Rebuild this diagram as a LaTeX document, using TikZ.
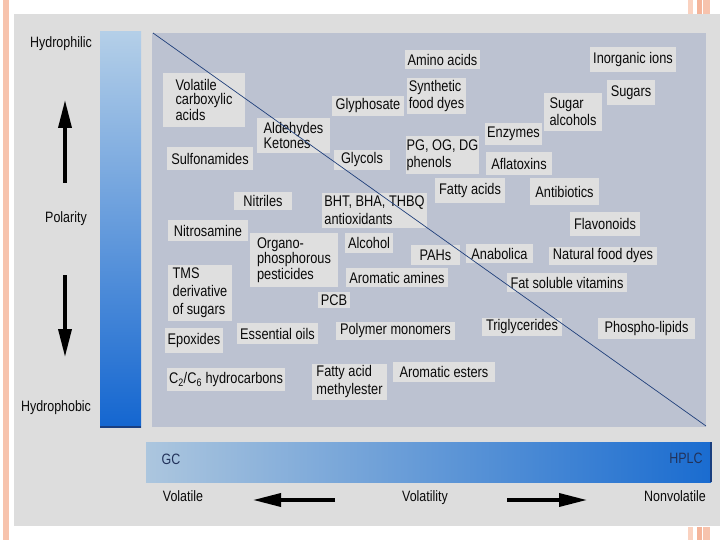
\documentclass[tikz,border=0pt]{standalone}
\usepackage{fontspec}
\setmainfont{Liberation Sans}[FakeStretch=0.83]
\usetikzlibrary{arrows.meta}
\definecolor{outergray}{HTML}{DDDDDD}
\definecolor{innerpanel}{HTML}{BCC2D1}
\definecolor{boxgray}{HTML}{DFDFDF}
\definecolor{txt}{HTML}{0A0A0A}
\definecolor{navy}{HTML}{1F3F7A}
\definecolor{gctxt}{HTML}{22325A}
\definecolor{vtop}{HTML}{B4CFE8}
\definecolor{vmid}{HTML}{6AA4E0}
\definecolor{vbot}{HTML}{1466D0}
\definecolor{hleft}{HTML}{ACC6DE}
\definecolor{hmid}{HTML}{78AEE0}
\definecolor{hright}{HTML}{1A6CD0}
\definecolor{edgeblue}{HTML}{1A3F80}
\definecolor{salmonA}{HTML}{F7C3AD}
\definecolor{salmonB}{HTML}{F4B49A}
\definecolor{salmonC}{HTML}{FAD2C0}
\tikzset{
  lbl/.style={fill=boxgray, text=txt, inner sep=1pt, align=left},
  axislbl/.style={text=txt, inner sep=0pt, font=\fontsize{15}{16}\selectfont},
  fatarrow/.style={line width=3.5pt, -{Triangle[length=28pt,width=13pt]}},
}
\newcommand{\bx}[7][17]{%
  \node[lbl, minimum width=#5pt-#3pt, minimum height=#6pt-#4pt,
        font=\fontsize{15.4}{#1}\selectfont]
    (#2) at ({(#3+#5)/2},{(#4+#6)/2}) {#7};}
\begin{document}
\begin{tikzpicture}[x=1pt,y=-1pt]
\useasboundingbox (0,0) rectangle (720,540);
\fill[white] (0,0) rectangle (720,540);
% slide decorations
\fill[salmonA] (3,0) rectangle (9,540);
\fill[salmonC] (688,0) rectangle (693,15);
\fill[salmonB] (697,0) rectangle (702,15);
\fill[salmonA] (703,0) rectangle (710,15);
\fill[salmonC] (688,527) rectangle (693,540);
\fill[salmonB] (697,527) rectangle (702,540);
\fill[salmonA] (703,527) rectangle (710,540);
% panels
\fill[outergray] (14,14) rectangle (720,526);
\fill[innerpanel] (152,33) rectangle (706,427);
% vertical gradient bar
\shade[top color=vtop, middle color=vmid, bottom color=vbot] (100,32) rectangle (141,427);
\draw[edgeblue, line width=1.5pt] (100,427) -- (141,427);
% horizontal gradient bar
\shade[left color=hleft, middle color=hmid, right color=hright] (146,442) rectangle (711,482);
\draw[edgeblue, line width=1.5pt] (711,442) -- (711,482);
% labels
\bx[14]{vca}{163}{73}{245}{127}{Volatile\\carboxylic\\acids}
\bx{sulf}{167}{147}{253}{170}{Sulfonamides}
\bx[14.5]{ald}{257}{118}{330}{153}{Aldehydes\\Ketones}
\bx{glyph}{332}{96}{404}{116}{Glyphosate}
\bx{amino}{405}{50}{480}{69}{Amino acids}
\bx[17]{synth}{407}{78}{466}{114}{Synthetic\\food dyes}
\bx{glycols}{334}{150}{390}{170}{Glycols}
\bx[17]{pg}{408}{136}{477}{174}{PG, OG, DG\\phenols}
\bx{inorg}{590}{47}{676}{72}{Inorganic ions}
\bx{sugars}{607}{80}{655}{105}{Sugars}
\bx[17]{sugalc}{544}{93}{602}{131}{Sugar\\alcohols}
\bx{enz}{485}{123}{542}{145}{Enzymes}
\bx{afla}{486}{152}{552}{175}{Aflatoxins}
\bx{nitriles}{234}{192}{292}{210}{Nitriles}
\bx[18]{bht}{322}{193}{427}{228}{BHT, BHA, THBQ\\antioxidants}
\bx{fatty}{435}{178}{505}{203}{Fatty acids}
\bx{antib}{530}{178}{599}{205}{Antibiotics}
\bx{flav}{570}{212}{640}{236}{Flavonoids}
\bx{nitros}{168}{220}{248}{241}{Nitrosamine}
\bx[15.5]{organo}{250}{233}{338}{287}{Organo-\\phosphorous\\pesticides}
\bx{alcohol}{345}{233}{393}{253}{Alcohol}
\bx{pahs}{411}{245}{460}{265}{PAHs}
\bx{anab}{466}{244}{533}{263}{Anabolica}
\bx{natfood}{549}{247}{657}{265}{Natural food dyes}
\bx{aromam}{346}{268}{448}{287}{Aromatic amines}
\bx{fatsol}{507}{273}{627}{292}{Fat soluble vitamins}
\bx[18]{tms}{168}{265}{232}{321}{TMS\\derivative\\of sugars}
\bx{pcb}{318}{292}{350}{308}{PCB}
\bx{epox}{165}{328}{223}{353}{Epoxides}
\bx{essoil}{237}{323}{318}{344}{Essential oils}
\bx{polym}{336}{322}{455}{340}{Polymer monomers}
\bx{trig}{482}{318}{562}{336}{Triglycerides}
\bx{phos}{598}{318}{695}{339}{Phospho-lipids}
\bx{hydroc}{167}{368}{285}{391}{C\textsubscript{2}/C\textsubscript{6} hydrocarbons}
\bx[18]{fame}{312}{364}{387}{400}{Fatty acid\\methylester}
\bx{aromest}{393}{362}{495}{382}{Aromatic esters}
% diagonal line
\coordinate (dA) at (153,33);
\coordinate (dB) at (706,426);
\draw[navy, line width=0.7pt] (dA) -- (dB);
% axis labels
\node[axislbl] (hphil) at (61,44) {Hydrophilic};
\node[axislbl] (pol) at (66,219) {Polarity};
\node[axislbl] (hphob) at (56,408) {Hydrophobic};
\node[axislbl, text=gctxt] (gc) at (171,459) {GC};
\node[axislbl, text=gctxt] (hplc) at (686,458) {HPLC};
\node[axislbl] (vol) at (183,496) {Volatile};
\node[axislbl] (vty) at (425,498) {Volatility};
\node[axislbl] (nonvol) at (675,496) {Nonvolatile};
% arrows
\coordinate (upS) at (65,183);
\coordinate (upE) at (65,100);
\coordinate (dnS) at (65,275);
\coordinate (dnE) at (65,357);
\coordinate (lfS) at (335,500);
\coordinate (lfE) at (253,500);
\coordinate (rtS) at (507,500);
\coordinate (rtE) at (587,500);
\draw[fatarrow] (upS) -- (upE);
\draw[fatarrow] (dnS) -- (dnE);
\draw[fatarrow] (lfS) -- (lfE);
\draw[fatarrow] (rtS) -- (rtE);
\end{tikzpicture}
\end{document}
